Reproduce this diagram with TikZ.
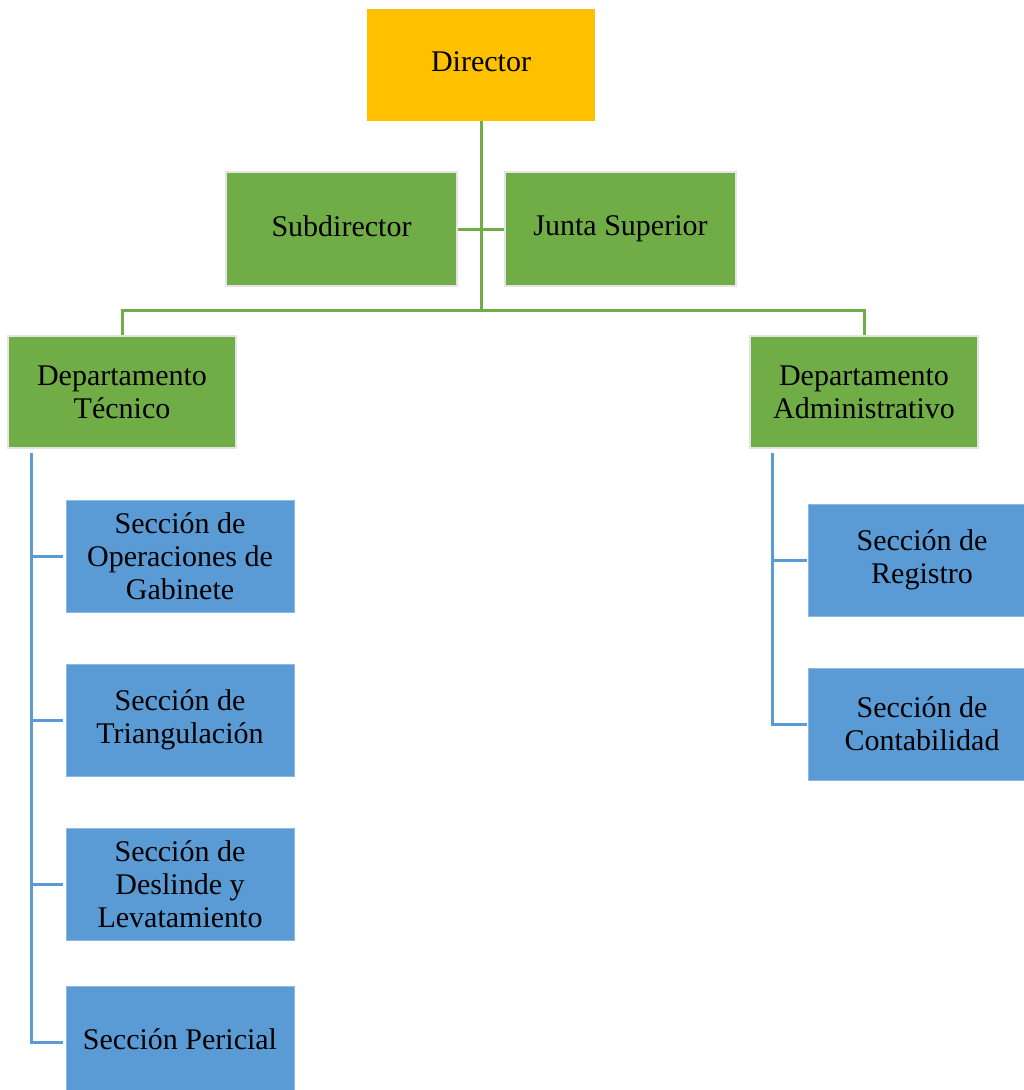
\documentclass[tikz,border=0pt]{standalone}
\usepackage{fontspec}
\setmainfont{Liberation Serif}
\definecolor{gold}{HTML}{FFC000}
\definecolor{leaf}{HTML}{70AD47}
\definecolor{sky}{HTML}{5B9BD5}
\definecolor{rim}{HTML}{E4E4E4}
\newcommand{\evenline}{\vphantom{Jp}}
\tikzset{
  box/.style={rectangle, inner sep=0pt, minimum width=228pt, minimum height=112pt,
    align=center, font=\fontsize{30}{33}\selectfont, text=black},
  topbox/.style={box, fill=gold},
  greenbox/.style={box, fill=leaf, draw=rim, line width=1.5pt},
  bluebox/.style={box, fill=sky, draw=sky!70!white, line width=1pt},
  gline/.style={draw=leaf, line width=3pt},
  bline/.style={draw=sky, line width=3pt},
}
\begin{document}
\begin{tikzpicture}[x=1pt, y=-1pt]
  \useasboundingbox (0,0) rectangle (1024,1090);
  \clip (0,0) rectangle (1024,1090);

  % top levels
  \node[topbox] (dir) at (481,65) {\evenline Director};
  \node[greenbox, minimum width=231pt, minimum height=114pt] (sub) at (341.5,229) {\evenline Subdirector};
  \node[greenbox, minimum width=231pt, minimum height=114pt] (junta) at (620.5,229) {\evenline Junta Superior};
  \node[greenbox] (tec) at (122,392) {Departamento\\Técnico};
  \node[greenbox] (adm) at (864,392) {Departamento\\Administrativo};

  % sections
  \node[bluebox] (gab) at (180,556) {Sección de\\Operaciones de\\Gabinete};
  \node[bluebox] (tri) at (180,720) {Sección de\\Triangulación};
  \node[bluebox] (des) at (180,884) {Sección de\\Deslinde y\\Levatamiento};
  \node[bluebox] (per) at (180,1042) {\evenline Sección Pericial};
  \node[bluebox] (reg) at (922,560) {Sección de\\Registro};
  \node[bluebox] (con) at (922,724) {Sección de\\Contabilidad};

  % green connectors
  \coordinate (bus) at (481,310);
  \draw[gline] (dir.south) -- (bus);
  \draw[gline] (sub.east) -- (junta.west);
  \draw[gline] (tec.north) |- (bus) -| (adm.north);

  % blue connectors
  \coordinate (tl) at (31,453);
  \coordinate (ar) at (772,453);
  \draw[bline] (tl) |- ([xshift=-3pt]per.west);
  \draw[bline, shorten >=3pt] (tl) |- (gab.west);
  \draw[bline, shorten >=3pt] (tl) |- (tri.west);
  \draw[bline, shorten >=3pt] (tl) |- (des.west);
  \draw[bline] (ar) |- ([xshift=-1pt]con.west);
  \draw[bline, shorten >=1pt] (ar) |- (reg.west);
\end{tikzpicture}
\end{document}
